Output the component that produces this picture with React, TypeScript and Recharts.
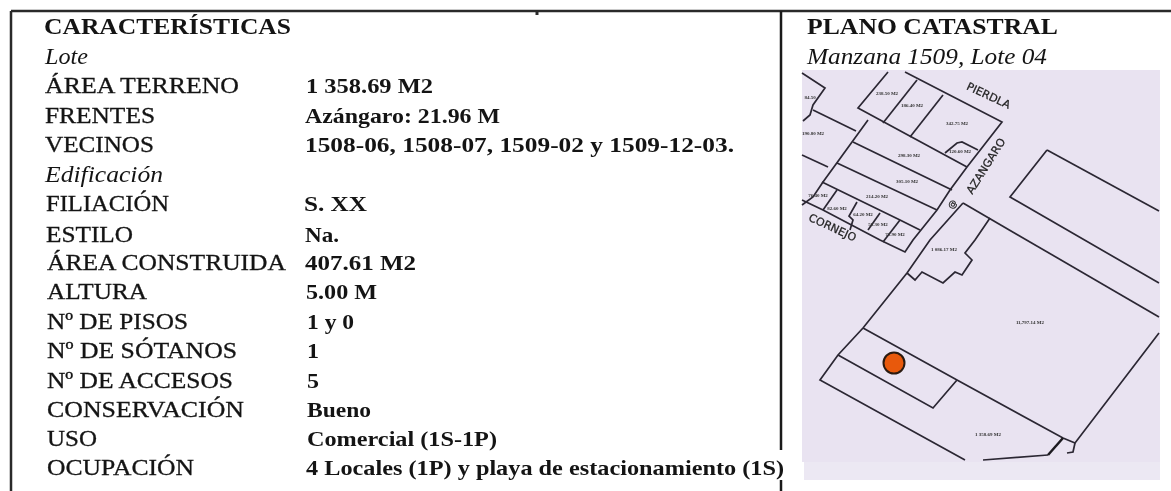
import React from 'react';
import { ScatterChart, Scatter, XAxis, YAxis, ReferenceLine, ReferenceArea, ReferenceDot } from 'recharts';

const WIDTH = 1171;
const HEIGHT = 491;
const SERIF = '"Liberation Serif", serif';

// Ficha: one entry per row
const rowLabels = [
  'ÁREA TERRENO', 'FRENTES', 'VECINOS', 'FILIACIÓN', 'ESTILO', 'ÁREA CONSTRUIDA', 'ALTURA',
  'Nº DE PISOS', 'Nº DE SÓTANOS', 'Nº DE ACCESOS', 'CONSERVACIÓN', 'USO', 'OCUPACIÓN',
];
const rowValues = [
  '1 358.69 M2', 'Azángaro: 21.96 M', '1508-06, 1508-07, 1509-02 y 1509-12-03.', 'S. XX', 'Na.', '407.61 M2', '5.00 M',
  '1 y 0', '1', '5', 'Bueno', 'Comercial (1S-1P)', '4 Locales (1P) y playa de estacionamiento (1S)',
];
const rowLines = [93, 123, 152, 211, 242, 270, 299, 329, 358, 388, 417, 446, 475];
const rowLabelX = [45, 45, 45, 46, 46, 47, 47, 47, 47, 47, 47, 47, 47];
const rowLabelEnd = [239, 155, 154, 169, 133, 286, 147, 188, 237, 233, 244, 97, 194];
const rowValueX = [306, 305, 305, 304, 305, 305, 306, 307, 307, 307, 307, 307, 306];
const rowValueEnd = [433, 500, 734, 367, 339, 416, 377, 354, 319, 319, 371, 497, 784];

// Plano catastral, traced in picture units
const streetLines = [
  [[802, 73], [825, 88], [813, 105], [810, 115], [803, 121]],
  [[813, 110], [856, 131]],
  [[802, 155], [828, 167]],
  [[888, 72], [858, 108], [967, 167]],
  [[905, 72], [1002, 122], [967, 167], [950, 190], [937, 210], [913, 240], [905, 252], [880, 240], [823, 210], [802, 200]],
  [[868, 120], [823, 182], [813, 197], [802, 205]],
  [[917, 80], [883, 123]],
  [[943, 95], [910, 137]],
  [[945, 153], [957, 143], [962, 142], [978, 150]],
  [[853, 142], [952, 190]],
  [[837, 163], [937, 210]],
  [[822, 182], [900, 220], [920, 230]],
  [[837, 190], [823, 210]],
  [[857, 202], [849, 216], [853, 220], [850, 230]],
  [[880, 213], [868, 230]],
  [[900, 220], [883, 242]],
  [[963, 203], [1159, 317]],
  [[1047, 150], [1159, 211]],
  [[1047, 150], [1010, 197], [1159, 283]],
  [[990, 218], [975, 240], [965, 253], [972, 260], [962, 275], [955, 272], [943, 283], [922, 272], [915, 280], [907, 273]],
  [[963, 203], [930, 240], [907, 273], [863, 328], [838, 355], [820, 380], [965, 460]],
  [[863, 328], [957, 380], [1063, 438], [1075, 443], [1159, 333]],
  [[1075, 443], [1073, 452], [1067, 453]],
  [[838, 355], [933, 408], [957, 380]],
  [[983, 460], [1048, 455]],
];
const thickLine = [[1048, 455], [1063, 438]];

// Street names on the map with their rotation
const streetNames = [
  { name: 'PIERDLA', x: 987, y: 99, angle: 25, size: 11 },
  { name: 'AZANGARO', x: 989, y: 168, angle: -58, size: 11 },
  { name: 'CORNEJO', x: 831, y: 231, angle: 25, size: 11 },
  { name: '@', x: 955, y: 206, angle: -58, size: 9 },
];
// Tiny area figures, barely legible in the picture
const areaNotes = [
  { note: '238.50 M2', x: 887, y: 95 }, { note: '186.40 M2', x: 912, y: 107 }, { note: '342.75 M2', x: 957, y: 125 },
  { note: '120.60 M2', x: 960, y: 153 }, { note: '298.30 M2', x: 909, y: 157 }, { note: '305.10 M2', x: 907, y: 183 },
  { note: '214.20 M2', x: 877, y: 198 }, { note: '84.50', x: 810, y: 99 }, { note: '190.80 M2', x: 813, y: 135 },
  { note: '76.40 M2', x: 818, y: 197 }, { note: '82.60 M2', x: 837, y: 210 }, { note: '64.20 M2', x: 863, y: 216 },
  { note: '58.30 M2', x: 878, y: 226 }, { note: '71.90 M2', x: 895, y: 236 }, { note: '1 086.17 M2', x: 944, y: 251 },
  { note: '11,797.14 M2', x: 1030, y: 324 }, { note: '1 358.69 M2', x: 988, y: 436 },
];

const rowPoints = rowLabels.map((label, i) => ({ x: rowLabelX[i], y: rowLines[i], label, end: rowLabelEnd[i] }));
const valuePoints = rowValues.map((label, i) => ({ x: rowValueX[i], y: rowLines[i], label, end: rowValueEnd[i] }));
const headerPoints = [
  { x: 44, y: 34, label: 'CARACTERÍSTICAS', end: 291 },
  { x: 807, y: 34, label: 'PLANO CATASTRAL', end: 1058 },
];
const italicPoints = [
  { x: 45, y: 64, label: 'Lote', end: 88 },
  { x: 45, y: 182, label: 'Edificación', end: 163 },
  { x: 807, y: 64, label: 'Manzana 1509, Lote 04', end: 1047 },
];

// Text stretched to the width it has in the picture (the scan is wider than it is tall)
const textShape = (style: React.CSSProperties, stroke = 0) => (props: any) => (
  <text
    x={props.cx}
    y={props.cy}
    fill="#141414"
    stroke={stroke ? '#141414' : 'none'}
    strokeWidth={stroke}
    fontFamily={SERIF}
    textLength={props.payload.end - props.payload.x}
    lengthAdjust="spacingAndGlyphs"
    style={style}
  >
    {props.payload.label}
  </text>
);

const StreetName = (props: any) => {
  const { cx, cy, payload } = props;
  return (
    <text
      x={cx}
      y={cy}
      fill="#222"
      stroke="#222"
      strokeWidth={0.25}
      fontFamily='"DejaVu Sans", sans-serif'
      fontSize={payload.size}
      textAnchor="middle"
      transform={`rotate(${payload.angle} ${cx} ${cy})`}
    >
      {payload.name}
    </text>
  );
};

const AreaNote = (props: any) => (
  <text x={props.cx} y={props.cy} fill="#333" fontFamily={SERIF} fontSize={5} fontWeight={700} textAnchor="middle">
    {props.payload.note}
  </text>
);

const noDot = () => null;

export default function App() {
  return (
    <div style={{ position: 'absolute', left: 0, top: 0, width: WIDTH, height: HEIGHT, background: '#fff', filter: 'blur(0.4px)' }}>
      <ScatterChart width={WIDTH} height={HEIGHT} margin={{ top: 0, right: 0, bottom: 0, left: 0 }}>
        <XAxis type="number" dataKey="x" domain={[0, WIDTH]} hide />
        <YAxis type="number" dataKey="y" domain={[0, HEIGHT]} reversed hide />

        <ReferenceArea x1={802} x2={1160} y1={70} y2={462} fill="#e9e3f1" fillOpacity={1} stroke="none" />
        <ReferenceArea x1={804} x2={1160} y1={462} y2={480} fill="#ece8f3" fillOpacity={1} stroke="none" />

        <ReferenceLine segment={[{ x: 11, y: 11 }, { x: WIDTH, y: 11 }]} stroke="#2a2a2a" strokeWidth={2.5} />
        <ReferenceLine segment={[{ x: 11, y: 11 }, { x: 11, y: HEIGHT }]} stroke="#2a2a2a" strokeWidth={2.5} />
        <ReferenceLine segment={[{ x: 781, y: 11 }, { x: 781, y: 450 }]} stroke="#1a1a1a" strokeWidth={2.5} />
        <ReferenceLine segment={[{ x: 781, y: 480 }, { x: 781, y: HEIGHT }]} stroke="#1a1a1a" strokeWidth={2.5} />
        <ReferenceLine segment={[{ x: 537, y: 11 }, { x: 537, y: 15 }]} stroke="#2a2a2a" strokeWidth={3} />

        {streetLines.map((points, i) => (
          <Scatter
            key={i}
            data={points.map(([x, y]) => ({ x, y }))}
            line={{ stroke: '#2b2733', strokeWidth: 1.7 }}
            shape={noDot}
            isAnimationActive={false}
          />
        ))}
        <Scatter
          data={thickLine.map(([x, y]) => ({ x, y }))}
          line={{ stroke: '#1c1a20', strokeWidth: 2.5 }}
          shape={noDot}
          isAnimationActive={false}
        />

        <Scatter data={streetNames} shape={StreetName} isAnimationActive={false} />
        <Scatter data={areaNotes} shape={AreaNote} isAnimationActive={false} />
        <ReferenceDot x={894} y={363} r={10.5} fill="#e8590c" stroke="#2a1a10" strokeWidth={2} />

        <Scatter data={headerPoints} shape={textShape({ fontSize: 23.5, fontWeight: 700 })} isAnimationActive={false} />
        <Scatter data={italicPoints} shape={textShape({ fontSize: 23, fontStyle: 'italic' })} isAnimationActive={false} />
        <Scatter data={rowPoints} shape={textShape({ fontSize: 23 }, 0.3)} isAnimationActive={false} />
        <Scatter data={valuePoints} shape={textShape({ fontSize: 21.5, fontWeight: 700 })} isAnimationActive={false} />
      </ScatterChart>
    </div>
  );
}
